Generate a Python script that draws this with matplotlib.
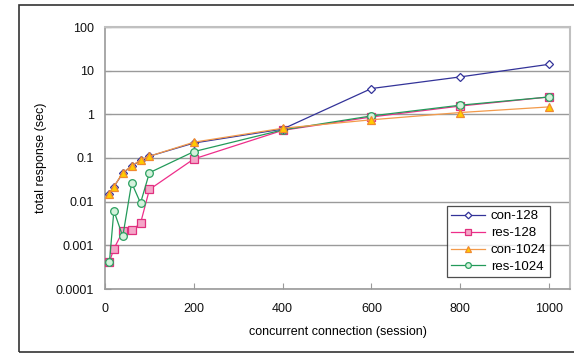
import matplotlib
matplotlib.use("Agg")
import matplotlib.pyplot as plt
from matplotlib.patches import Rectangle

# sessions
sessions = [10, 20, 40, 60, 80, 100, 200, 400, 600, 800, 1000]

con_128 = [0.015, 0.022, 0.045, 0.065, 0.088, 0.11, 0.22, 0.46, 3.9, 7.2, 14.0]
res_128 = [0.00042, 0.00083, 0.0021, 0.0022, 0.0032, 0.019, 0.095, 0.43, 0.87, 1.55, 2.5]
con_1024 = [0.015, 0.022, 0.046, 0.066, 0.09, 0.11, 0.23, 0.48, 0.75, 1.1, 1.48]
res_1024 = [0.00042, 0.0062, 0.0016, 0.027, 0.0093, 0.046, 0.14, 0.44, 0.92, 1.62, 2.5]

x_ticks = [0, 200, 400, 600, 800, 1000]
y_ticks = [0.0001, 0.001, 0.01, 0.1, 1, 10, 100]
y_labels = ["0.0001", "0.001", "0.01", "0.1", "1", "10", "100"]

plt.rcParams["font.family"] = ["Liberation Sans", "DejaVu Sans"]

W, H = 574, 353
fig = plt.figure(figsize=(W / 100, H / 100), dpi=100)
ax = fig.add_axes([105 / W, 1 - 289 / H, 465 / W, 262 / H])

# outer frame
fig.patches.append(Rectangle((19 / W, 1 - 352 / H), 600 / W, 347 / H,
                             transform=fig.transFigure, fill=False,
                             edgecolor="#333333", linewidth=1.2))

ax.plot(sessions, con_128, color="#333399", lw=0.9, marker="D", ms=4.5,
        mfc="white", mec="#333399", mew=0.9, label="con-128", zorder=4)
ax.plot(sessions, res_128, color="#ee2e8a", lw=0.9, marker="s", ms=5.5,
        mfc="#f4a6c8", mec="#e0307f", mew=0.9, label="res-128", zorder=3)
ax.plot(sessions, con_1024, color="#f39a4a", lw=0.9, marker="^", ms=5.5,
        mfc="#ffcc00", mec="#f08a30", mew=0.9, label="con-1024", zorder=5)
ax.plot(sessions, res_1024, color="#239a5a", lw=0.9, marker="o", ms=5.5,
        mfc="#d4f2dc", mec="#2aa060", mew=0.9, label="res-1024", zorder=3)

ax.set_yscale("log")
ax.set_ylim(0.0001, 100)
ax.set_xlim(0, 1047)
ax.set_yticks(y_ticks)
ax.set_yticklabels(y_labels)
ax.yaxis.set_minor_locator(matplotlib.ticker.NullLocator())
ax.set_xticks(x_ticks)
ax.grid(axis="y", color="#9a9a9a", lw=1.0)
ax.set_axisbelow(True)

for side in ["left", "bottom"]:
    ax.spines[side].set_color("#9a9a9a")
    ax.spines[side].set_linewidth(1.2)
for side in ["top", "right"]:
    ax.spines[side].set_color("#c0c0c0")
    ax.spines[side].set_linewidth(1.5)

ax.tick_params(axis="both", direction="in", length=4, color="#9a9a9a",
               labelsize=9, colors="#111111")
ax.tick_params(axis="y", pad=8)
ax.tick_params(axis="x", pad=10)

ax.set_ylabel("total response (sec)", fontsize=9, labelpad=6)
ax.set_xlabel("concurrent connection (session)", fontsize=9, labelpad=8)

leg = ax.legend(loc="lower right", bbox_to_anchor=(445 / 465, 12 / 262),
                fontsize=9.5, frameon=True, fancybox=False, edgecolor="#222222",
                handlelength=2.6, borderpad=0.3, labelspacing=0.35,
                handletextpad=0.4, borderaxespad=0, markerscale=0.75)
leg.get_frame().set_linewidth(0.9)

fig.savefig("out.png", dpi=100)
